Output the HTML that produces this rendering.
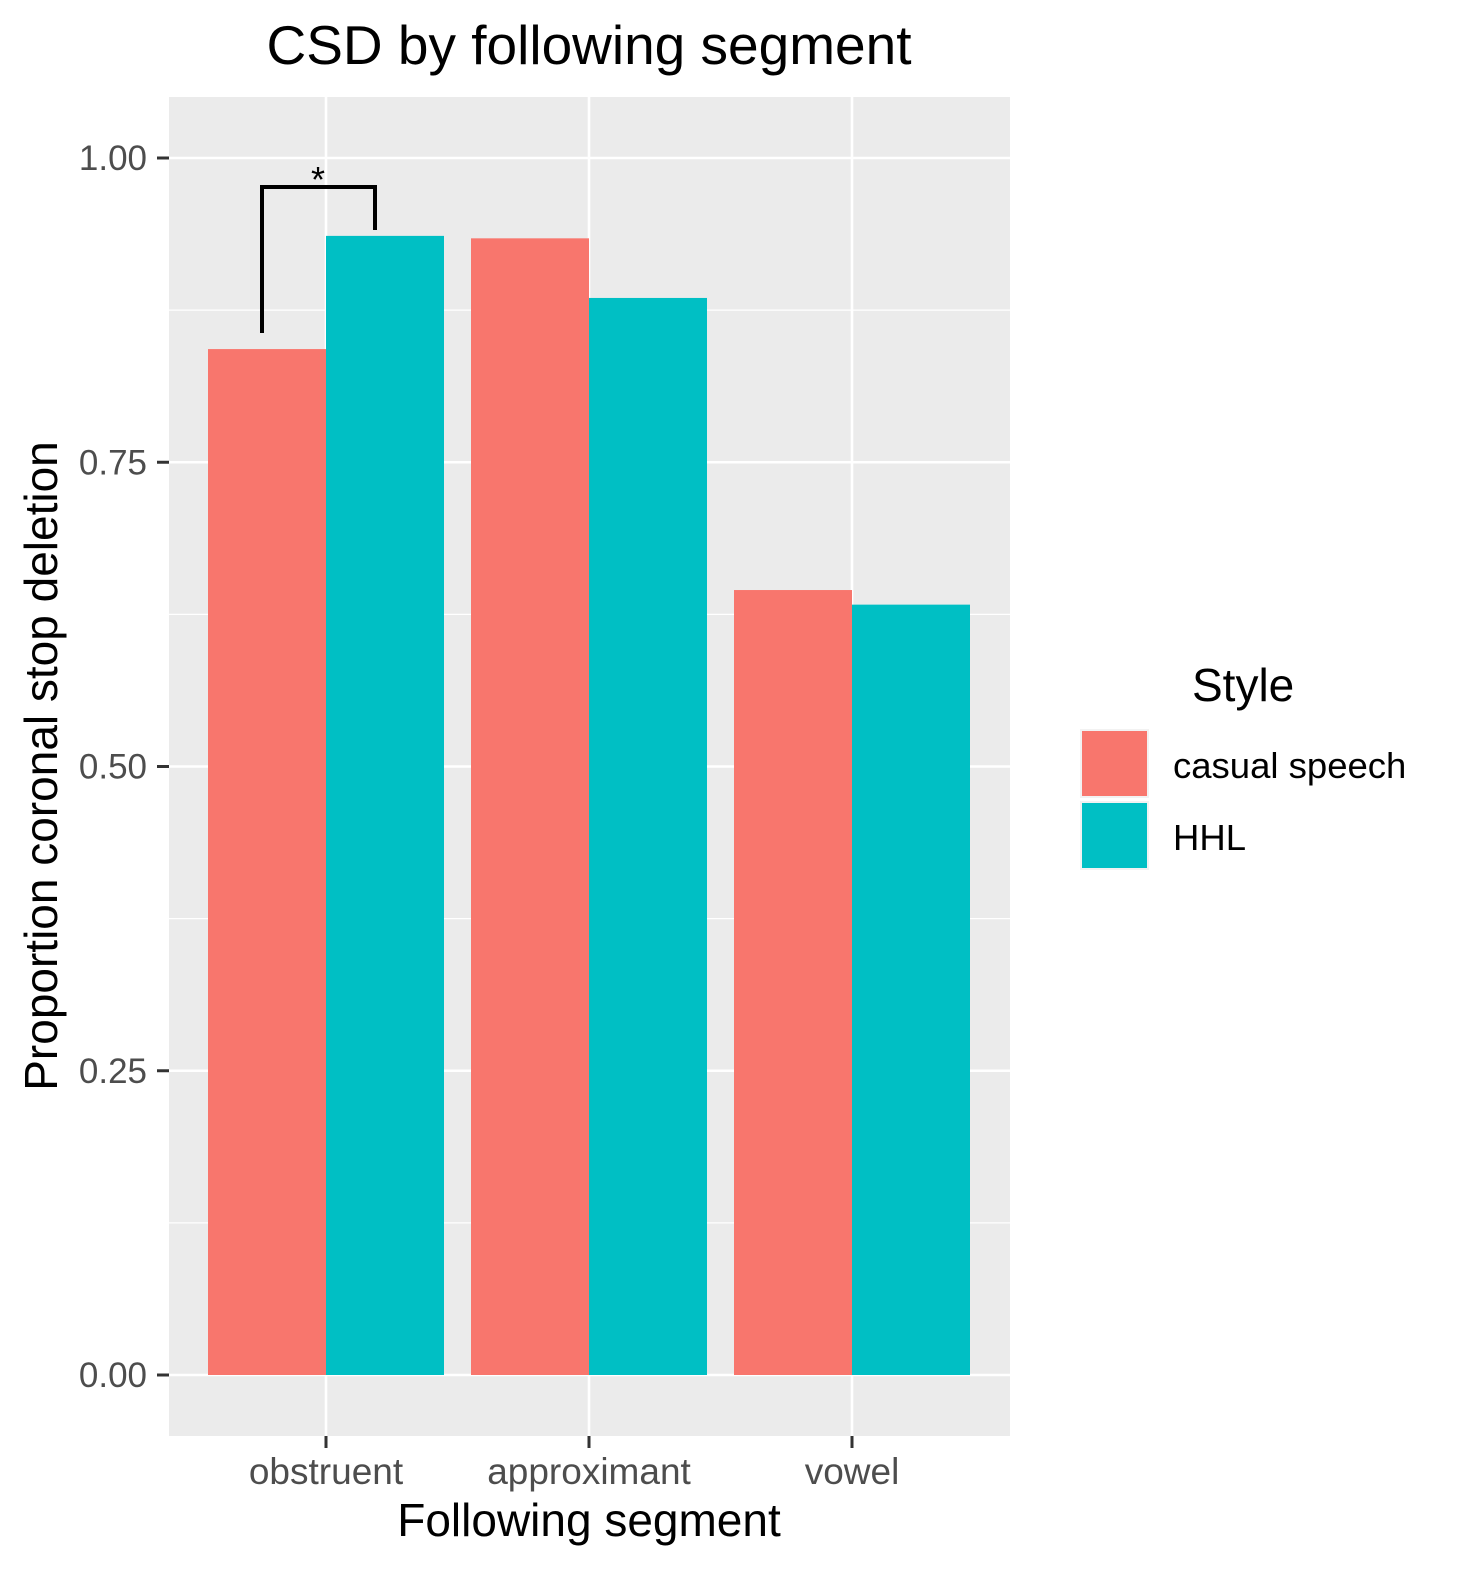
<!DOCTYPE html>
<html><head><meta charset="utf-8"><style>
html,body{margin:0;padding:0;background:#fff;}
svg{display:block;font-family:"Liberation Sans",Arial,sans-serif;}
</style></head><body>
<svg id="chart" width="1458" height="1574" viewBox="0 0 1458 1574">
<text x="589" y="64" font-size="55" text-anchor="middle" fill="#000">CSD by following segment</text>
<rect x="169" y="97" width="841" height="1339" fill="#ebebeb"/>
<g id="grid"></g>
<g id="bars"></g>
<g id="axes"></g>
<g fill="none" stroke="#000" stroke-width="4">
<path d="M262 333 L262 187 L375 187 L375 230"/>
</g>
<text x="318" y="192" font-size="36" text-anchor="middle">*</text>
<text x="589" y="1536" font-size="46" text-anchor="middle">Following segment</text>
<text transform="translate(57,766) rotate(-90)" font-size="46" text-anchor="middle">Proportion coronal stop deletion</text>
<g>
<text x="1192" y="701" font-size="46">Style</text>
<rect x="1080" y="729" width="69" height="69" fill="#f2f2f2"/>
<rect x="1082" y="731" width="65" height="65" fill="#f8766d"/>
<text x="1173" y="778" font-size="36.5" fill="#000">casual speech</text>
<rect x="1080" y="801" width="69" height="69" fill="#f2f2f2"/>
<rect x="1082" y="803" width="65" height="65" fill="#00bfc4"/>
<text x="1173" y="850" font-size="36.5" fill="#000">HHL</text>
</g>
</svg>
<script>
const categories = ["obstruent","approximant","vowel"];
const casualValues = [0.843,0.934,0.645];
const hhlValues = [0.936,0.885,0.633];
const yTicks = [0,0.25,0.5,0.75,1];
const yTickLabels = ["0.00","0.25","0.50","0.75","1.00"];
const yMinor = [0.125,0.375,0.625,0.875];

const NS="http://www.w3.org/2000/svg";
function y(v){return 1375 - v*1217;}
function xc(i){return 326 + i*263;}
const bw=118;
function mk(tag,attrs,parent){const e=document.createElementNS(NS,tag);for(const k in attrs)e.setAttribute(k,attrs[k]);document.getElementById(parent).appendChild(e);return e;}

yMinor.forEach(v=>{
  const l=mk('line',{x1:169,x2:1010,y1:y(v),y2:y(v),stroke:'#fff','stroke-width':1.3},'grid');
  
  
});
yTicks.forEach((v,i)=>{
  const l=mk('line',{x1:169,x2:1010,y1:y(v),y2:y(v),stroke:'#fff','stroke-width':2.6},'grid');
  
  
  const t=mk('line',{x1:157,x2:169,y1:y(v),y2:y(v),stroke:'#333','stroke-width':3},'axes');
  
  
  const tx=mk('text',{x:147,y:y(v)+12,'font-size':35,'text-anchor':'end',fill:'#4d4d4d'},'axes');
  tx.textContent=yTickLabels[i];
  
  
});
categories.forEach((c,i)=>{
  const l=mk('line',{x1:xc(i),x2:xc(i),y1:97,y2:1436,stroke:'#fff','stroke-width':2.6},'grid');
  
  
  const b1=mk('rect',{x:xc(i)-bw,y:y(casualValues[i]),width:bw,height:y(0)-y(casualValues[i]),fill:'#f8766d'},'bars');
  
  
  const b2=mk('rect',{x:xc(i),y:y(hhlValues[i]),width:bw,height:y(0)-y(hhlValues[i]),fill:'#00bfc4'},'bars');
  
  
  const t=mk('line',{x1:xc(i),x2:xc(i),y1:1436,y2:1448,stroke:'#333','stroke-width':3},'axes');
  
  
  const tx=mk('text',{x:xc(i),y:1484,'font-size':37,'text-anchor':'middle',fill:'#4d4d4d'},'axes');
  tx.textContent=c;
  
  
});
</script>
</body></html>
